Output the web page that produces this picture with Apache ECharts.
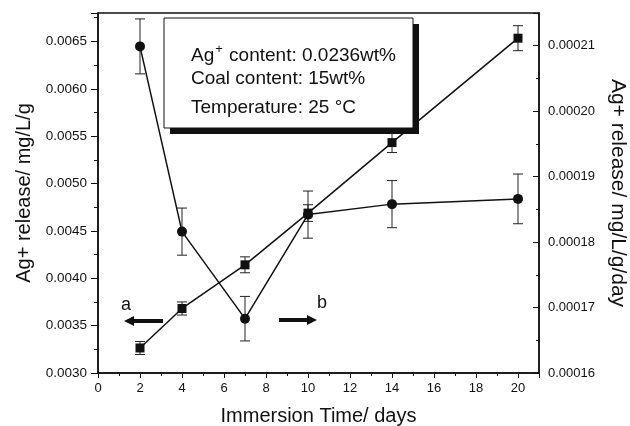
<!DOCTYPE html>
<html><head><meta charset="utf-8">
<script src="https://cdn.jsdelivr.net/npm/echarts@6/dist/echarts.min.js"></script>
<style>html,body{margin:0;padding:0;background:#fff}#c{width:630px;height:426px}</style>
</head><body><div id="c"></div>
<script>
// Data
const days = [2, 4, 7, 10, 14, 20];
// squares (curve a, left axis): cumulative Ag+ release, mg/L/g
const releaseA = [0.003264, 0.003681, 0.004142, 0.004688, 0.005432, 0.006534];
const errA = [0.000069, 0.000069, 0.000084, 0.000088, 0.000105, 0.000132];
// circles (curve b, right axis): Ag+ release rate, mg/L/g/day
const releaseB = [0.0002099, 0.0001816, 0.0001683, 0.0001842, 0.0001858, 0.0001866];
const errB = [0.0000042, 0.0000036, 0.0000034, 0.0000036, 0.0000036, 0.0000038];
const xTicks = [0, 2, 4, 6, 8, 10, 12, 14, 16, 18, 20];
const infoLines = ['Ag+ content: 0.0236wt%', 'Coal content: 15wt%', 'Temperature: 25 °C'];

const FONT = 'Liberation Sans, Arial, sans-serif';
const chart = echarts.init(document.getElementById('c'));

function errorSeries(vals, errs, yIdx) {
  return {
    type: 'custom', yAxisIndex: yIdx, z: 2, silent: true,
    data: days.map((d, i) => [d, vals[i] - errs[i], vals[i] + errs[i]]),
    renderItem: function (params, api) {
      const lo = api.coord([api.value(0), api.value(1)]);
      const hi = api.coord([api.value(0), api.value(2)]);
      const hw = 5;
      const st = { stroke: '#222', lineWidth: 1, fill: null };
      return { type: 'group', children: [
        { type: 'line', shape: { x1: lo[0], y1: lo[1], x2: hi[0], y2: hi[1] }, style: st },
        { type: 'line', shape: { x1: lo[0] - hw, y1: lo[1], x2: lo[0] + hw, y2: lo[1] }, style: st },
        { type: 'line', shape: { x1: hi[0] - hw, y1: hi[1], x2: hi[0] + hw, y2: hi[1] }, style: st }
      ]};
    }
  };
}

function axisBase(inside, major, minor) {
  return {
    axisLine: { show: true, lineStyle: { color: '#111', width: 1.5 } },
    axisTick: { show: true, inside: inside, length: major, lineStyle: { color: '#111', width: 1 } },
    minorTick: { show: true, splitNumber: 2, length: minor, lineStyle: { color: '#111', width: 1 } },
    splitLine: { show: false },
    nameTextStyle: { fontFamily: FONT, fontSize: 20, color: '#111' }
  };
}

chart.setOption({
  backgroundColor: '#fff',
  animation: false,
  grid: { left: 98, right: 91, top: 13, bottom: 53, containLabel: false, outerBoundsMode: 'none',
    show: true, borderColor: '#111', borderWidth: 1.5, backgroundColor: 'transparent' },
  xAxis: Object.assign(axisBase(false, 5, 3), {
    type: 'value', min: 0, max: 21, interval: 2,
    name: 'Immersion Time/ days', nameLocation: 'middle', nameGap: 33,
    axisLabel: { fontFamily: FONT, fontSize: 13, color: '#111', margin: 9, showMaxLabel: false,
      formatter: v => xTicks.indexOf(v) >= 0 ? String(v) : '' }
  }),
  yAxis: [
    Object.assign(axisBase(false, 7, 4), {
      type: 'value', position: 'left', min: 0.003, max: 0.0068, interval: 0.0005,
      name: 'Ag+ release/ mg/L/g', nameLocation: 'middle', nameGap: 64,
      axisLabel: { fontFamily: FONT, fontSize: 13.5, color: '#111', margin: 11, showMaxLabel: false,
        formatter: v => v.toFixed(4) }
    }),
    Object.assign(axisBase(true, 6, 3), {
      type: 'value', position: 'right', min: 0.00016, max: 0.000215, interval: 0.00001,
      name: 'Ag+ release/ mg/L/g/day', nameLocation: 'middle', nameGap: 68, nameRotate: -90,
      nameTextStyle: { fontFamily: FONT, fontSize: 21, color: '#111' },
      axisLabel: { fontFamily: FONT, fontSize: 13, color: '#111', margin: 9, showMaxLabel: false,
        formatter: v => v.toFixed(5) }
    })
  ],
  series: [
    errorSeries(releaseA, errA, 0),
    errorSeries(releaseB, errB, 1),
    { type: 'line', yAxisIndex: 0, z: 3, data: days.map((d, i) => [d, releaseA[i]]),
      symbol: 'rect', symbolSize: 9, showSymbol: true,
      lineStyle: { color: '#111', width: 1.5 }, itemStyle: { color: '#111' } },
    { type: 'line', yAxisIndex: 1, z: 3, data: days.map((d, i) => [d, releaseB[i]]),
      symbol: 'circle', symbolSize: 10, showSymbol: true,
      lineStyle: { color: '#111', width: 1.5 }, itemStyle: { color: '#111' } }
  ],
  graphic: [
    { type: 'rect', shape: { x: 170, y: 24, width: 249, height: 110 }, style: { fill: '#111' }, z: 10 },
    { type: 'rect', shape: { x: 164, y: 18, width: 249, height: 110 }, style: { fill: '#fff', stroke: '#111', lineWidth: 1 }, z: 11 },
    { type: 'text', x: 191, y: 56, z: 12, style: {
      text: '{n|Ag}{s|+}{n| content: 0.0236wt%}', verticalAlign: 'middle',
      rich: { n: { fontFamily: FONT, fontSize: 19, fill: '#111' },
              s: { fontFamily: FONT, fontSize: 13, fill: '#111', padding: [0, 1, 13, 1] } } } },
    { type: 'text', x: 191, y: 79, z: 12, style: { text: infoLines[1], fontFamily: FONT, fontSize: 19, fill: '#111', verticalAlign: 'middle' } },
    { type: 'text', x: 191, y: 108, z: 12, style: { text: infoLines[2], fontFamily: FONT, fontSize: 19, fill: '#111', verticalAlign: 'middle' } },
    { type: 'polygon', z: 12, shape: { points: [[124,321],[134,316],[134,319],[163,319],[163,323],[134,323],[134,326]] }, style: { fill: '#111' } },
    { type: 'polygon', z: 12, shape: { points: [[317,320],[307,315],[307,318],[279,318],[279,322],[307,322],[307,325]] }, style: { fill: '#111' } },
    { type: 'text', x: 126, y: 305, z: 12, style: { text: 'a', fontFamily: FONT, fontSize: 18, fill: '#111', align: 'center', verticalAlign: 'middle' } },
    { type: 'text', x: 322, y: 303, z: 12, style: { text: 'b', fontFamily: FONT, fontSize: 18, fill: '#111', align: 'center', verticalAlign: 'middle' } }
  ]
});
</script></body></html>
